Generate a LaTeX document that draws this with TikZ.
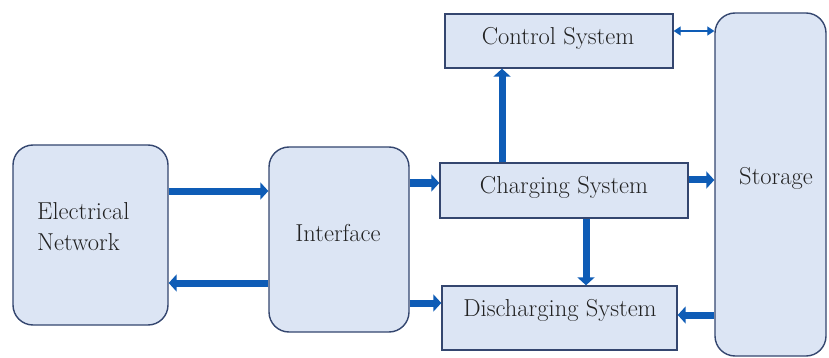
\documentclass[tikz,border=0pt]{standalone}
\usetikzlibrary{arrows.meta}
\definecolor{boxfill}{HTML}{DCE5F4}
\definecolor{boxline}{HTML}{34466F}
\definecolor{flowblue}{HTML}{0E5CB6}
\definecolor{linkblue}{HTML}{3F7FC8}
\definecolor{txt}{HTML}{222222}
\tikzset{
  box/.style={draw=boxline, fill=boxfill, line width=1.4pt, inner sep=0pt},
  roundbox/.style={box, rounded corners=20pt},
  lbl/.style={text=txt, font=\fontsize{24.5}{31}\selectfont, align=left},
  flow/.style={draw=flowblue, line width=7pt,
    -{Triangle[length=8pt,width=17pt]}},
  link/.style={draw=linkblue, line width=1.3pt,
    {Triangle[length=7pt,width=9pt]}-{Triangle[length=7pt,width=9pt]}, flowblue},
}
\begin{document}
\begin{tikzpicture}[x=1pt,y=-1pt]
  \useasboundingbox (0,0) rectangle (829,358);
  \fill[white] (0,0) rectangle (829,358);

  % blocks
  \node[roundbox, minimum width=155pt, minimum height=180pt] (en) at (90.5,235) {};
  \node[roundbox, minimum width=140pt, minimum height=185pt] (int) at (339,239.5) {};
  \node[box, minimum width=228pt, minimum height=54pt] (ctl) at (559,41) {};
  \node[box, minimum width=248pt, minimum height=55pt] (chg) at (564,190.5) {};
  \node[box, minimum width=235pt, minimum height=64pt] (dis) at (559.5,318) {};
  \node[roundbox, minimum width=111pt, minimum height=343pt] (sto) at (770.5,184.5) {};

  % block captions
  \node[lbl, anchor=west, inner sep=0pt] (enT) at (37,227) {Electrical\\Network};
  \node[lbl] (intT) at (338,233) {Interface};
  \node[lbl] (ctlT) at (558,38) {Control System};
  \node[lbl] (chgT) at (564,187) {Charging System};
  \node[lbl] (disT) at (560,310) {Discharging System};
  \node[lbl] (stoT) at (776,178) {Storage};

  % connector end points
  \coordinate (a1) at ([yshift=44pt]en.east);
  \coordinate (a2) at ([yshift=-43.5pt]int.west);
  \coordinate (a3) at ([yshift=56.5pt]int.east);
  \coordinate (a4) at ([yshift=-63.5pt]int.east);
  \coordinate (a5) at ([xshift=-62pt]chg.north);
  \coordinate (a6) at ([xshift=22pt]chg.south);
  \coordinate (a7) at ([yshift=10.5pt]chg.east);
  \coordinate (a8) at ([yshift=-130.5pt]sto.west);
  \coordinate (a9) at ([yshift=10pt]ctl.east);

  % power flows
  \draw[flow] (a1) -- (a1 -| int.west);
  \draw[flow] (a2) -- (a2 -| en.east);
  \draw[flow] (a3) -- (a3 -| chg.west);
  \draw[flow] (a4) -- (a4 -| dis.west);
  \draw[flow] (a5) -- (a5 |- ctl.south);
  \draw[flow] (a6) -- (a6 |- dis.north);
  \draw[flow] (a7) -- (a7 -| sto.west);
  \draw[flow] (a8) -- (a8 -| dis.east);

  % control link
  \draw[link] (a9) -- (a9 -| sto.west);
\end{tikzpicture}
\end{document}
